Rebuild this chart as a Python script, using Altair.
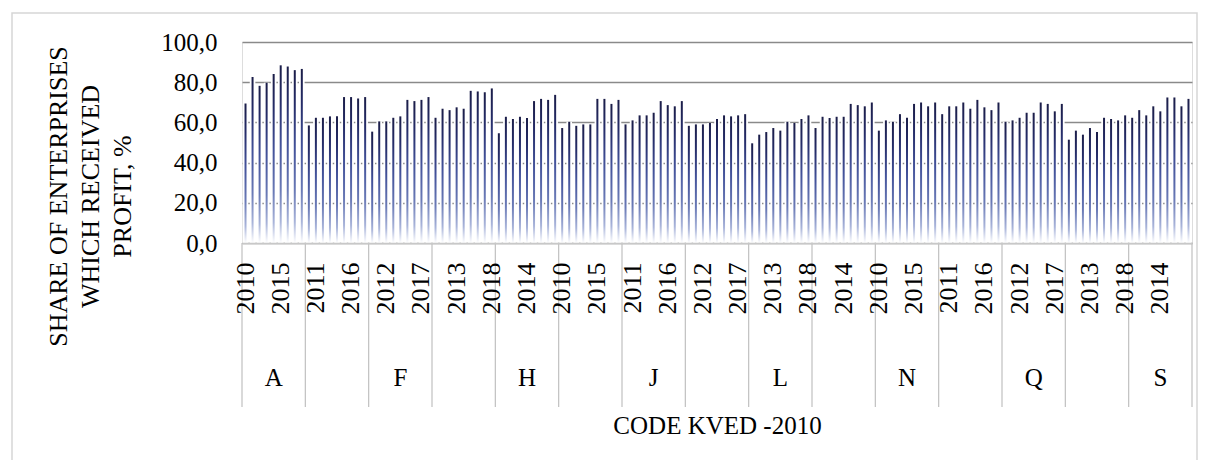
import altair as alt
import pandas as pd

# KVED-2010 sections and years
groups = ["A", "B-E", "F", "G", "H", "I", "J", "K", "L", "M", "N", "P", "Q", "R", "S"]
shown_groups = ["A", "F", "H", "J", "L", "N", "Q", "S"]
years = [2010, 2011, 2012, 2013, 2014, 2015, 2016, 2017, 2018]

# Share of enterprises which received profit, %
v_A   = [69.4, 82.6, 78.2, 79.7, 84.1, 88.4, 87.8, 86.0, 86.6]
v_BE  = [58.5, 62.3, 62.3, 63.0, 63.0, 72.6, 72.6, 71.9, 72.6]
v_F   = [55.4, 60.5, 60.5, 62.3, 63.0, 71.2, 70.6, 71.2, 72.6]
v_G   = [62.3, 66.8, 66.1, 67.5, 66.8, 75.7, 75.4, 75.0, 76.9]
v_H   = [54.6, 62.8, 61.7, 62.8, 62.2, 70.6, 71.7, 71.2, 73.7]
v_I   = [57.2, 60.3, 58.3, 59.0, 59.0, 71.7, 71.7, 69.2, 71.2]
v_J   = [59.0, 61.0, 63.5, 63.5, 64.8, 70.6, 68.6, 68.0, 70.6]
v_K   = [58.3, 59.0, 59.0, 59.7, 61.7, 63.5, 63.0, 63.5, 64.1]
v_L   = [49.6, 53.9, 55.2, 57.2, 55.9, 60.3, 59.7, 61.7, 63.5]
v_M   = [57.2, 62.8, 62.2, 62.8, 62.8, 69.2, 68.6, 68.0, 69.9]
v_N   = [55.9, 61.0, 60.3, 64.1, 62.3, 69.2, 69.9, 68.0, 69.9]
v_P   = [64.1, 68.0, 68.0, 69.9, 66.8, 71.2, 67.5, 66.1, 69.9]
v_Q   = [60.3, 61.0, 62.3, 64.8, 64.8, 69.9, 69.2, 65.5, 69.2]
v_R   = [51.4, 55.9, 53.9, 57.2, 55.2, 62.3, 61.7, 61.0, 63.5]
v_S   = [62.3, 66.1, 63.5, 68.0, 65.5, 72.4, 72.4, 68.0, 71.7]

series = [v_A, v_BE, v_F, v_G, v_H, v_I, v_J, v_K, v_L, v_M, v_N, v_P, v_Q, v_R, v_S]

y_title = ["SHARE OF ENTERPRISES", "WHICH RECEIVED", "PROFIT, %"]
x_title = "CODE KVED -2010"

rows = []
for g, vals in zip(groups, series):
    for yr, v in zip(years, vals):
        rows.append({"group": g, "year": yr, "key": f"{g}{yr}", "value": v})
df = pd.DataFrame(rows)
keys = list(df["key"])

label_keys = keys[::5]
starts = pd.DataFrame({"key": [f"{g}{years[0]}" for g in groups]})
ends = pd.DataFrame({"key": [keys[-1]]})
glabels = pd.DataFrame({"key": [f"{g}{years[4]}" for g in groups if g in shown_groups],
                        "group": [g for g in groups if g in shown_groups]})

FONT = "Liberation Serif"
xscale = alt.Scale(paddingInner=0, paddingOuter=0)

x_axis = alt.Axis(
    values=label_keys, labelExpr="slice(datum.value, -4)", labelAngle=270,
    labelAlign="right", labelBaseline="middle", labelPadding=19,
    labelFont=FONT, labelFontSize=26, labelColor="#000000",
    labelOverlap=False, labelBound=False,
    ticks=False, domain=True, domainColor="#c8c8c8", domainWidth=1.5,
    grid=False, zindex=1,
    title=x_title, titleFont=FONT, titleFontSize=25, titleFontWeight="normal",
    titleColor="#000000", titleY=182, titleBaseline="middle",
)

y_axis = alt.Axis(
    values=[0, 20, 40, 60, 80, 100],
    labelExpr="replace(format(datum.value, '.1f'), '.', ',')",
    labelFont=FONT, labelFontSize=25, labelColor="#000000", labelPadding=25,
    ticks=False, domain=False, grid=True, gridColor="#8a8a8a", gridWidth=1.6,
    title=y_title, titleFont=FONT, titleFontSize=26, titleFontWeight="normal",
    titleColor="#000000", titleAngle=270, titleAlign="center", titleBaseline="middle",
    titleLineHeight=32, titleX=-184, titleY=154,
)

x_main = alt.X("key:N", sort=keys, scale=xscale, axis=x_axis)
y_main = alt.Y("value:Q", scale=alt.Scale(domain=[0, 100], nice=False), axis=y_axis)

base = alt.Chart(df)

cover = base.mark_bar(color="white", size=5.6).encode(x=x_main, y=y_main)

grad = alt.Gradient(
    gradient="linear", x1=0, x2=0, y1=0, y2=1,
    stops=[
        alt.GradientStop(offset=0, color="#1b1d48"),
        alt.GradientStop(offset=0.2, color="#252c68"),
        alt.GradientStop(offset=0.45, color="#43529a"),
        alt.GradientStop(offset=0.7, color="#6a7ab6"),
        alt.GradientStop(offset=0.88, color="#aab5da"),
        alt.GradientStop(offset=1, color="#ffffff"),
    ],
)
bars = base.mark_bar(color=grad, size=2).encode(x=x_main, y=y_main)

div_start = alt.Chart(starts).mark_rule(color="#c0c0c0", strokeWidth=1.2).encode(
    x=alt.X("key:N", sort=keys, scale=xscale, bandPosition=0),
    y=alt.datum(0),
    y2=alt.value(365),
)
div_end = alt.Chart(ends).mark_rule(color="#c0c0c0", strokeWidth=1.2).encode(
    x=alt.X("key:N", sort=keys, scale=xscale, bandPosition=1),
    y=alt.datum(0),
    y2=alt.value(365),
)

group_text = alt.Chart(glabels).mark_text(
    font=FONT, fontSize=25, color="#000000", baseline="middle", align="center"
).encode(
    x=alt.X("key:N", sort=keys, scale=xscale),
    y=alt.value(336),
    text="group:N",
)

frame = alt.Chart(ends).mark_rect(fill=None, stroke="#d6d6d6", strokeWidth=1.5).encode(
    x=alt.value(-230), x2=alt.value(955), y=alt.value(-29), y2=alt.value(440)
)

chart = alt.layer(cover, bars, div_start, div_end, group_text, frame).properties(
    width=950, height=201,
    padding={"left": 234, "top": 34, "right": 10, "bottom": 217},
    autosize=alt.AutoSizeParams(type="none"),
).configure_view(stroke=None).configure(background="white")

chart.save("out.html", embed_options={"renderer": "svg", "actions": False})
